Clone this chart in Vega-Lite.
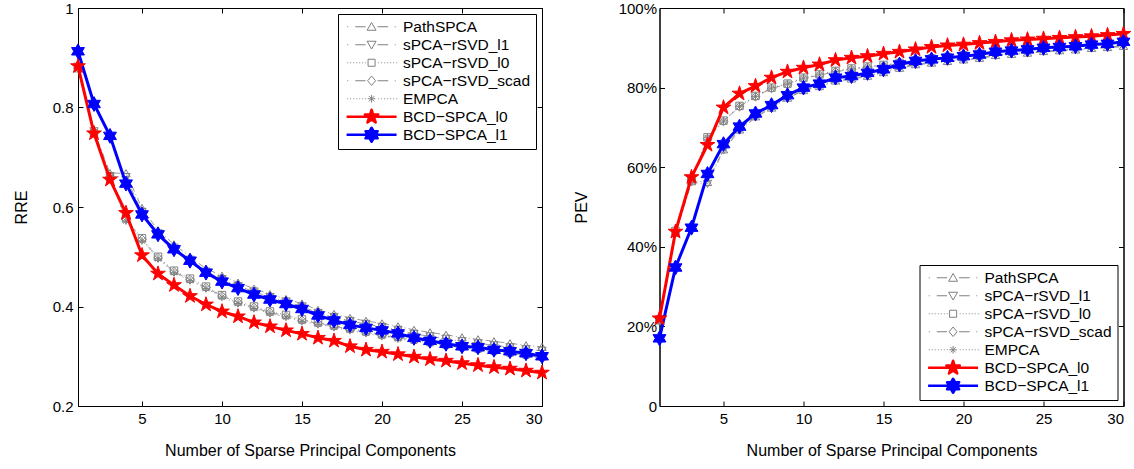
{
  "$schema": "https://vega.github.io/schema/vega-lite/v6.json",
  "padding": {"left": 12, "top": 0, "right": 5, "bottom": 5},
  "background": "white",
  "datasets": {
    "rre": [
      {"k":1,"PathSPCA":0.885,"sPCA−rSVD_l1":0.882,"sPCA−rSVD_l0":0.879,"sPCA−rSVD_scad":0.880,"EMPCA":0.878,"BCD−SPCA_l0":0.883,"BCD−SPCA_l1":0.913},
      {"k":2,"PathSPCA":0.755,"sPCA−rSVD_l1":0.752,"sPCA−rSVD_l0":0.748,"sPCA−rSVD_scad":0.750,"EMPCA":0.747,"BCD−SPCA_l0":0.748,"BCD−SPCA_l1":0.807},
      {"k":3,"PathSPCA":0.668,"sPCA−rSVD_l1":0.662,"sPCA−rSVD_l0":0.660,"sPCA−rSVD_scad":0.658,"EMPCA":0.657,"BCD−SPCA_l0":0.655,"BCD−SPCA_l1":0.743},
      {"k":4,"PathSPCA":0.668,"sPCA−rSVD_l1":0.660,"sPCA−rSVD_l0":0.577,"sPCA−rSVD_scad":0.575,"EMPCA":0.572,"BCD−SPCA_l0":0.588,"BCD−SPCA_l1":0.647},
      {"k":5,"PathSPCA":0.598,"sPCA−rSVD_l1":0.590,"sPCA−rSVD_l0":0.537,"sPCA−rSVD_scad":0.535,"EMPCA":0.532,"BCD−SPCA_l0":0.503,"BCD−SPCA_l1":0.585},
      {"k":6,"PathSPCA":0.553,"sPCA−rSVD_l1":0.547,"sPCA−rSVD_l0":0.500,"sPCA−rSVD_scad":0.498,"EMPCA":0.496,"BCD−SPCA_l0":0.466,"BCD−SPCA_l1":0.545},
      {"k":7,"PathSPCA":0.525,"sPCA−rSVD_l1":0.518,"sPCA−rSVD_l0":0.472,"sPCA−rSVD_scad":0.470,"EMPCA":0.468,"BCD−SPCA_l0":0.443,"BCD−SPCA_l1":0.515},
      {"k":8,"PathSPCA":0.500,"sPCA−rSVD_l1":0.494,"sPCA−rSVD_l0":0.456,"sPCA−rSVD_scad":0.454,"EMPCA":0.452,"BCD−SPCA_l0":0.421,"BCD−SPCA_l1":0.492},
      {"k":9,"PathSPCA":0.476,"sPCA−rSVD_l1":0.470,"sPCA−rSVD_l0":0.440,"sPCA−rSVD_scad":0.438,"EMPCA":0.436,"BCD−SPCA_l0":0.404,"BCD−SPCA_l1":0.468},
      {"k":10,"PathSPCA":0.462,"sPCA−rSVD_l1":0.455,"sPCA−rSVD_l0":0.423,"sPCA−rSVD_scad":0.421,"EMPCA":0.419,"BCD−SPCA_l0":0.390,"BCD−SPCA_l1":0.450},
      {"k":11,"PathSPCA":0.448,"sPCA−rSVD_l1":0.441,"sPCA−rSVD_l0":0.410,"sPCA−rSVD_scad":0.408,"EMPCA":0.406,"BCD−SPCA_l0":0.380,"BCD−SPCA_l1":0.437},
      {"k":12,"PathSPCA":0.436,"sPCA−rSVD_l1":0.430,"sPCA−rSVD_l0":0.400,"sPCA−rSVD_scad":0.398,"EMPCA":0.396,"BCD−SPCA_l0":0.368,"BCD−SPCA_l1":0.424},
      {"k":13,"PathSPCA":0.425,"sPCA−rSVD_l1":0.419,"sPCA−rSVD_l0":0.390,"sPCA−rSVD_scad":0.388,"EMPCA":0.386,"BCD−SPCA_l0":0.360,"BCD−SPCA_l1":0.414},
      {"k":14,"PathSPCA":0.415,"sPCA−rSVD_l1":0.410,"sPCA−rSVD_l0":0.383,"sPCA−rSVD_scad":0.381,"EMPCA":0.379,"BCD−SPCA_l0":0.352,"BCD−SPCA_l1":0.405},
      {"k":15,"PathSPCA":0.406,"sPCA−rSVD_l1":0.400,"sPCA−rSVD_l0":0.374,"sPCA−rSVD_scad":0.372,"EMPCA":0.370,"BCD−SPCA_l0":0.345,"BCD−SPCA_l1":0.395},
      {"k":16,"PathSPCA":0.393,"sPCA−rSVD_l1":0.387,"sPCA−rSVD_l0":0.368,"sPCA−rSVD_scad":0.366,"EMPCA":0.364,"BCD−SPCA_l0":0.337,"BCD−SPCA_l1":0.382},
      {"k":17,"PathSPCA":0.385,"sPCA−rSVD_l1":0.379,"sPCA−rSVD_l0":0.362,"sPCA−rSVD_scad":0.360,"EMPCA":0.358,"BCD−SPCA_l0":0.331,"BCD−SPCA_l1":0.372},
      {"k":18,"PathSPCA":0.377,"sPCA−rSVD_l1":0.371,"sPCA−rSVD_l0":0.356,"sPCA−rSVD_scad":0.354,"EMPCA":0.352,"BCD−SPCA_l0":0.320,"BCD−SPCA_l1":0.363},
      {"k":19,"PathSPCA":0.371,"sPCA−rSVD_l1":0.365,"sPCA−rSVD_l0":0.350,"sPCA−rSVD_scad":0.348,"EMPCA":0.346,"BCD−SPCA_l0":0.313,"BCD−SPCA_l1":0.357},
      {"k":20,"PathSPCA":0.366,"sPCA−rSVD_l1":0.359,"sPCA−rSVD_l0":0.344,"sPCA−rSVD_scad":0.342,"EMPCA":0.340,"BCD−SPCA_l0":0.309,"BCD−SPCA_l1":0.352},
      {"k":21,"PathSPCA":0.360,"sPCA−rSVD_l1":0.353,"sPCA−rSVD_l0":0.339,"sPCA−rSVD_scad":0.337,"EMPCA":0.335,"BCD−SPCA_l0":0.304,"BCD−SPCA_l1":0.346},
      {"k":22,"PathSPCA":0.353,"sPCA−rSVD_l1":0.345,"sPCA−rSVD_l0":0.334,"sPCA−rSVD_scad":0.332,"EMPCA":0.330,"BCD−SPCA_l0":0.299,"BCD−SPCA_l1":0.337},
      {"k":23,"PathSPCA":0.348,"sPCA−rSVD_l1":0.340,"sPCA−rSVD_l0":0.329,"sPCA−rSVD_scad":0.327,"EMPCA":0.325,"BCD−SPCA_l0":0.294,"BCD−SPCA_l1":0.331},
      {"k":24,"PathSPCA":0.343,"sPCA−rSVD_l1":0.335,"sPCA−rSVD_l0":0.324,"sPCA−rSVD_scad":0.322,"EMPCA":0.320,"BCD−SPCA_l0":0.291,"BCD−SPCA_l1":0.325},
      {"k":25,"PathSPCA":0.338,"sPCA−rSVD_l1":0.330,"sPCA−rSVD_l0":0.320,"sPCA−rSVD_scad":0.318,"EMPCA":0.316,"BCD−SPCA_l0":0.286,"BCD−SPCA_l1":0.320},
      {"k":26,"PathSPCA":0.334,"sPCA−rSVD_l1":0.326,"sPCA−rSVD_l0":0.316,"sPCA−rSVD_scad":0.314,"EMPCA":0.312,"BCD−SPCA_l0":0.282,"BCD−SPCA_l1":0.318},
      {"k":27,"PathSPCA":0.330,"sPCA−rSVD_l1":0.322,"sPCA−rSVD_l0":0.312,"sPCA−rSVD_scad":0.310,"EMPCA":0.308,"BCD−SPCA_l0":0.278,"BCD−SPCA_l1":0.313},
      {"k":28,"PathSPCA":0.326,"sPCA−rSVD_l1":0.318,"sPCA−rSVD_l0":0.308,"sPCA−rSVD_scad":0.306,"EMPCA":0.304,"BCD−SPCA_l0":0.275,"BCD−SPCA_l1":0.310},
      {"k":29,"PathSPCA":0.322,"sPCA−rSVD_l1":0.314,"sPCA−rSVD_l0":0.304,"sPCA−rSVD_scad":0.302,"EMPCA":0.300,"BCD−SPCA_l0":0.271,"BCD−SPCA_l1":0.306},
      {"k":30,"PathSPCA":0.319,"sPCA−rSVD_l1":0.311,"sPCA−rSVD_l0":0.300,"sPCA−rSVD_scad":0.298,"EMPCA":0.296,"BCD−SPCA_l0":0.267,"BCD−SPCA_l1":0.300}
    ],
    "pev": [
      {"k":1,"PathSPCA":21.5,"sPCA−rSVD_l1":21.3,"sPCA−rSVD_l0":21.8,"sPCA−rSVD_scad":21.6,"EMPCA":21.7,"BCD−SPCA_l0":22.0,"BCD−SPCA_l1":17.0},
      {"k":2,"PathSPCA":43.5,"sPCA−rSVD_l1":43.3,"sPCA−rSVD_l0":44.0,"sPCA−rSVD_scad":43.8,"EMPCA":43.9,"BCD−SPCA_l0":43.8,"BCD−SPCA_l1":34.8},
      {"k":3,"PathSPCA":56.5,"sPCA−rSVD_l1":56.2,"sPCA−rSVD_l0":57.0,"sPCA−rSVD_scad":56.8,"EMPCA":56.9,"BCD−SPCA_l0":57.5,"BCD−SPCA_l1":44.8},
      {"k":4,"PathSPCA":56.3,"sPCA−rSVD_l1":55.8,"sPCA−rSVD_l0":67.5,"sPCA−rSVD_scad":67.2,"EMPCA":67.4,"BCD−SPCA_l0":65.6,"BCD−SPCA_l1":58.3},
      {"k":5,"PathSPCA":64.5,"sPCA−rSVD_l1":64.2,"sPCA−rSVD_l0":71.7,"sPCA−rSVD_scad":71.5,"EMPCA":71.6,"BCD−SPCA_l0":75.0,"BCD−SPCA_l1":65.8},
      {"k":6,"PathSPCA":69.5,"sPCA−rSVD_l1":69.2,"sPCA−rSVD_l0":75.4,"sPCA−rSVD_scad":75.2,"EMPCA":75.3,"BCD−SPCA_l0":78.5,"BCD−SPCA_l1":70.2},
      {"k":7,"PathSPCA":72.8,"sPCA−rSVD_l1":72.5,"sPCA−rSVD_l0":77.9,"sPCA−rSVD_scad":77.7,"EMPCA":77.8,"BCD−SPCA_l0":80.4,"BCD−SPCA_l1":73.5},
      {"k":8,"PathSPCA":75.0,"sPCA−rSVD_l1":74.8,"sPCA−rSVD_l0":80.0,"sPCA−rSVD_scad":79.8,"EMPCA":79.9,"BCD−SPCA_l0":82.5,"BCD−SPCA_l1":75.6},
      {"k":9,"PathSPCA":77.5,"sPCA−rSVD_l1":77.3,"sPCA−rSVD_l0":81.0,"sPCA−rSVD_scad":80.8,"EMPCA":80.9,"BCD−SPCA_l0":84.0,"BCD−SPCA_l1":78.1},
      {"k":10,"PathSPCA":79.4,"sPCA−rSVD_l1":79.2,"sPCA−rSVD_l0":82.5,"sPCA−rSVD_scad":82.3,"EMPCA":82.4,"BCD−SPCA_l0":85.0,"BCD−SPCA_l1":80.0},
      {"k":11,"PathSPCA":80.4,"sPCA−rSVD_l1":80.2,"sPCA−rSVD_l0":83.3,"sPCA−rSVD_scad":83.1,"EMPCA":83.2,"BCD−SPCA_l0":85.8,"BCD−SPCA_l1":81.0},
      {"k":12,"PathSPCA":81.8,"sPCA−rSVD_l1":81.6,"sPCA−rSVD_l0":84.2,"sPCA−rSVD_scad":84.0,"EMPCA":84.1,"BCD−SPCA_l0":86.9,"BCD−SPCA_l1":82.5},
      {"k":13,"PathSPCA":82.3,"sPCA−rSVD_l1":82.1,"sPCA−rSVD_l0":84.8,"sPCA−rSVD_scad":84.6,"EMPCA":84.7,"BCD−SPCA_l0":87.5,"BCD−SPCA_l1":82.9},
      {"k":14,"PathSPCA":83.0,"sPCA−rSVD_l1":82.8,"sPCA−rSVD_l0":85.3,"sPCA−rSVD_scad":85.1,"EMPCA":85.2,"BCD−SPCA_l0":87.9,"BCD−SPCA_l1":83.7},
      {"k":15,"PathSPCA":83.9,"sPCA−rSVD_l1":83.7,"sPCA−rSVD_l0":85.7,"sPCA−rSVD_scad":85.5,"EMPCA":85.6,"BCD−SPCA_l0":88.5,"BCD−SPCA_l1":84.6},
      {"k":16,"PathSPCA":85.0,"sPCA−rSVD_l1":84.8,"sPCA−rSVD_l0":86.2,"sPCA−rSVD_scad":86.0,"EMPCA":86.1,"BCD−SPCA_l0":89.0,"BCD−SPCA_l1":85.8},
      {"k":17,"PathSPCA":85.9,"sPCA−rSVD_l1":85.7,"sPCA−rSVD_l0":86.8,"sPCA−rSVD_scad":86.6,"EMPCA":86.7,"BCD−SPCA_l0":89.6,"BCD−SPCA_l1":86.7},
      {"k":18,"PathSPCA":86.3,"sPCA−rSVD_l1":86.1,"sPCA−rSVD_l0":87.3,"sPCA−rSVD_scad":87.1,"EMPCA":87.2,"BCD−SPCA_l0":90.2,"BCD−SPCA_l1":87.1},
      {"k":19,"PathSPCA":86.7,"sPCA−rSVD_l1":86.5,"sPCA−rSVD_l0":87.7,"sPCA−rSVD_scad":87.5,"EMPCA":87.6,"BCD−SPCA_l0":90.6,"BCD−SPCA_l1":87.5},
      {"k":20,"PathSPCA":87.1,"sPCA−rSVD_l1":86.9,"sPCA−rSVD_l0":88.1,"sPCA−rSVD_scad":87.9,"EMPCA":88.0,"BCD−SPCA_l0":90.8,"BCD−SPCA_l1":87.9},
      {"k":21,"PathSPCA":87.5,"sPCA−rSVD_l1":87.3,"sPCA−rSVD_l0":88.5,"sPCA−rSVD_scad":88.3,"EMPCA":88.4,"BCD−SPCA_l0":91.2,"BCD−SPCA_l1":88.3},
      {"k":22,"PathSPCA":88.2,"sPCA−rSVD_l1":88.0,"sPCA−rSVD_l0":89.1,"sPCA−rSVD_scad":88.9,"EMPCA":89.0,"BCD−SPCA_l0":91.5,"BCD−SPCA_l1":89.0},
      {"k":23,"PathSPCA":88.5,"sPCA−rSVD_l1":88.3,"sPCA−rSVD_l0":89.4,"sPCA−rSVD_scad":89.2,"EMPCA":89.3,"BCD−SPCA_l0":91.9,"BCD−SPCA_l1":89.3},
      {"k":24,"PathSPCA":88.8,"sPCA−rSVD_l1":88.6,"sPCA−rSVD_l0":89.7,"sPCA−rSVD_scad":89.5,"EMPCA":89.6,"BCD−SPCA_l0":92.1,"BCD−SPCA_l1":89.6},
      {"k":25,"PathSPCA":89.2,"sPCA−rSVD_l1":89.0,"sPCA−rSVD_l0":90.1,"sPCA−rSVD_scad":89.9,"EMPCA":90.0,"BCD−SPCA_l0":92.3,"BCD−SPCA_l1":90.0},
      {"k":26,"PathSPCA":89.4,"sPCA−rSVD_l1":89.2,"sPCA−rSVD_l0":90.3,"sPCA−rSVD_scad":90.1,"EMPCA":90.2,"BCD−SPCA_l0":92.5,"BCD−SPCA_l1":90.2},
      {"k":27,"PathSPCA":89.6,"sPCA−rSVD_l1":89.4,"sPCA−rSVD_l0":90.5,"sPCA−rSVD_scad":90.3,"EMPCA":90.4,"BCD−SPCA_l0":92.7,"BCD−SPCA_l1":90.4},
      {"k":28,"PathSPCA":90.0,"sPCA−rSVD_l1":89.8,"sPCA−rSVD_l0":90.9,"sPCA−rSVD_scad":90.7,"EMPCA":90.8,"BCD−SPCA_l0":92.9,"BCD−SPCA_l1":90.8},
      {"k":29,"PathSPCA":90.2,"sPCA−rSVD_l1":90.0,"sPCA−rSVD_l0":91.1,"sPCA−rSVD_scad":90.9,"EMPCA":91.0,"BCD−SPCA_l0":93.2,"BCD−SPCA_l1":91.0},
      {"k":30,"PathSPCA":90.5,"sPCA−rSVD_l1":90.3,"sPCA−rSVD_l0":91.6,"sPCA−rSVD_scad":91.4,"EMPCA":91.5,"BCD−SPCA_l0":93.5,"BCD−SPCA_l1":91.5}
    ]
  },
  "bounds": "flush",
  "spacing": 117.5,
  "resolve": {
    "scale": {"x": "independent", "y": "independent", "color": "independent"},
    "legend": {"color": "independent"}
  },
  "hconcat": [
    {
      "width": 464,
      "height": 398,
      "data": {"name": "rre"},
      "transform": [
        {"fold": ["PathSPCA", "sPCA−rSVD_l1", "sPCA−rSVD_l0", "sPCA−rSVD_scad", "EMPCA", "BCD−SPCA_l0", "BCD−SPCA_l1"], "as": ["method", "v"]}
      ],
      "resolve": {"axis": {"x": "independent", "y": "independent"}},
      "layer": [
        {
          "transform": [{"filter": {"field": "method", "oneOf": ["PathSPCA", "sPCA−rSVD_l1", "sPCA−rSVD_scad"]}}],
          "mark": {"type": "line", "strokeWidth": 0.8, "strokeDash": [6, 3, 1, 3]},
          "encoding": {
            "x": {"field": "k", "type": "quantitative", "scale": {"domain": [1, 30], "nice": false, "zero": false},
                  "axis": {"values": [5, 10, 15, 20, 25, 30], "title": "Number of Sparse Principal Components", "labelPadding": 10, "titlePadding": 16}},
            "y": {"field": "v", "type": "quantitative", "scale": {"domain": [0.2, 1], "nice": false, "zero": false},
                  "axis": {"values": [0.2, 0.4, 0.6, 0.8, 1], "format": ".1~f", "title": "RRE", "labelPadding": 10, "titlePadding": 23}},
            "color": {"field": "method", "type": "nominal",
                      "scale": {"domain": ["PathSPCA", "sPCA−rSVD_l1", "sPCA−rSVD_l0", "sPCA−rSVD_scad", "EMPCA", "BCD−SPCA_l0", "BCD−SPCA_l1"],
                                "range": ["#808080", "#808080", "#808080", "#808080", "#808080", "#ff0000", "#0000ff"]},
                      "legend": {"orient": "top-right", "offset": 6,
                        "encode": {
                          "symbols": {
                            "update": {
                              "shape": {"signal": "datum.value == 'PathSPCA' ? 'M1.93,-0.85M1.93,0.85M-0.63,0H-0.53M0.21,0H1.3M2.56,0H3.68M4.37,0H4.47M1.93,-0.45L2.4,0.37L1.46,0.37Z' : datum.value == 'sPCA−rSVD_l1' ? 'M1.93,-0.85M1.93,0.85M-0.63,0H-0.53M0.21,0H1.3M2.56,0H3.68M4.37,0H4.47M1.93,0.45L2.4,-0.37L1.46,-0.37Z' : datum.value == 'sPCA−rSVD_l0' ? 'M1.93,-0.85M1.93,0.85M-0.63,0H-0.53M-0.32,0H-0.22M0,0H0.1M0.32,0H0.42M0.63,0H0.73M0.95,0H1.05M1.26,0H1.36M2.63,0H2.73M2.95,0H3.05M3.26,0H3.36M3.58,0H3.68M3.89,0H3.99M4.21,0H4.31M4.53,0H4.63M1.56,-0.37H2.3V0.37H1.56Z' : datum.value == 'sPCA−rSVD_scad' ? 'M1.93,-0.85M1.93,0.85M-0.63,0H-0.53M0.21,0H1.3M2.56,0H3.68M4.37,0H4.47M1.93,-0.5L2.35,0L1.93,0.5L1.51,0Z' : datum.value == 'EMPCA' ? 'M1.93,-0.85M1.93,0.85M-0.63,0H-0.53M-0.32,0H-0.22M0,0H0.1M0.32,0H0.42M0.63,0H0.73M0.95,0H1.05M1.26,0H1.36M2.63,0H2.73M2.95,0H3.05M3.26,0H3.36M3.58,0H3.68M3.89,0H3.99M4.21,0H4.31M4.53,0H4.63M1.53,0H2.33M1.93,-0.4V0.4M1.65,-0.28L2.21,0.28M1.65,0.28L2.21,-0.28' : datum.value == 'BCD−SPCA_l0' ? 'M-0.7,0H4.56M1.93,-0.74L2.097,-0.229L2.634,-0.229L2.199,0.087L2.365,0.599L1.93,0.283L1.495,0.599L1.661,0.087L1.226,-0.229L1.763,-0.229Z' : 'M-0.7,0H4.56M1.93,-0.74L2.144,-0.37L2.571,-0.37L2.357,0L2.571,0.37L2.144,0.37L1.93,0.74L1.716,0.37L1.289,0.37L1.503,0L1.289,-0.37L1.716,-0.37Z'"},
                              "fill": {"signal": "datum.value == 'BCD−SPCA_l0' ? '#ff0000' : datum.value == 'BCD−SPCA_l1' ? '#0000ff' : 'transparent'"},
                              "stroke": {"signal": "datum.value == 'BCD−SPCA_l0' ? '#ff0000' : datum.value == 'BCD−SPCA_l1' ? '#0000ff' : '#808080'"},
                              "strokeWidth": {"signal": "datum.value == 'BCD−SPCA_l0' || datum.value == 'BCD−SPCA_l1' ? 2.5 : 1"},
                              "strokeJoin": {"value": "round"}
                            }
                          }
                        }}}
          }
        },
        {
          "transform": [{"filter": {"field": "method", "oneOf": ["sPCA−rSVD_l0", "EMPCA"]}}],
          "mark": {"type": "line", "strokeWidth": 0.8, "strokeDash": [1, 3]},
          "encoding": {
            "x": {"field": "k", "type": "quantitative", "axis": null},
            "y": {"field": "v", "type": "quantitative", "axis": null},
            "color": {"field": "method", "type": "nominal", "legend": null}
          }
        },
        {
          "transform": [{"filter": {"field": "method", "equal": "PathSPCA"}}],
          "mark": {"type": "point", "shape": "triangle-up", "filled": false, "color": "#808080", "strokeWidth": 1, "size": 70, "opacity": 1},
          "encoding": {"x": {"field": "k", "type": "quantitative", "axis": null}, "y": {"field": "v", "type": "quantitative", "axis": null}}
        },
        {
          "transform": [{"filter": {"field": "method", "equal": "sPCA−rSVD_l1"}}],
          "mark": {"type": "point", "shape": "triangle-down", "filled": false, "color": "#808080", "strokeWidth": 1, "size": 70, "opacity": 1},
          "encoding": {"x": {"field": "k", "type": "quantitative", "axis": null}, "y": {"field": "v", "type": "quantitative", "axis": null}}
        },
        {
          "transform": [{"filter": {"field": "method", "equal": "sPCA−rSVD_l0"}}],
          "mark": {"type": "point", "shape": "square", "filled": false, "color": "#808080", "strokeWidth": 1, "size": 55, "opacity": 1},
          "encoding": {"x": {"field": "k", "type": "quantitative", "axis": null}, "y": {"field": "v", "type": "quantitative", "axis": null}}
        },
        {
          "transform": [{"filter": {"field": "method", "equal": "sPCA−rSVD_scad"}}],
          "mark": {"type": "point", "shape": "diamond", "filled": false, "color": "#808080", "strokeWidth": 1, "size": 75, "opacity": 1},
          "encoding": {"x": {"field": "k", "type": "quantitative", "axis": null}, "y": {"field": "v", "type": "quantitative", "axis": null}}
        },
        {
          "transform": [{"filter": {"field": "method", "equal": "EMPCA"}}],
          "mark": {"type": "point", "shape": "M-1,0H1M0,-1V1M-0.7,-0.7L0.7,0.7M-0.7,0.7L0.7,-0.7", "filled": false, "color": "#808080", "strokeWidth": 1, "size": 60, "opacity": 1},
          "encoding": {"x": {"field": "k", "type": "quantitative", "axis": null}, "y": {"field": "v", "type": "quantitative", "axis": null}}
        },
        {
          "transform": [{"filter": {"field": "method", "oneOf": ["BCD−SPCA_l0", "BCD−SPCA_l1"]}}],
          "mark": {"type": "line", "strokeWidth": 3},
          "encoding": {
            "x": {"field": "k", "type": "quantitative", "axis": {"orient": "top", "labels": false, "title": null, "values": [5, 10, 15, 20, 25, 30]}},
            "y": {"field": "v", "type": "quantitative", "axis": {"orient": "right", "labels": false, "title": null, "values": [0.2, 0.4, 0.6, 0.8, 1]}},
            "color": {"field": "method", "type": "nominal", "legend": null}
          }
        },
        {
          "transform": [{"filter": {"field": "method", "equal": "BCD−SPCA_l0"}}],
          "mark": {"type": "point", "shape": "M0,-1L0.225,-0.309L0.951,-0.309L0.363,0.118L0.588,0.809L0,0.382L-0.588,0.809L-0.363,0.118L-0.951,-0.309L-0.225,-0.309Z", "filled": true, "color": "#ff0000", "stroke": "#ff0000", "strokeWidth": 1, "size": 240, "opacity": 1},
          "encoding": {"x": {"field": "k", "type": "quantitative", "axis": null}, "y": {"field": "v", "type": "quantitative", "axis": null}}
        },
        {
          "transform": [{"filter": {"field": "method", "equal": "BCD−SPCA_l1"}}],
          "mark": {"type": "point", "shape": "M0,-1L0.289,-0.5L0.866,-0.5L0.577,0L0.866,0.5L0.289,0.5L0,1L-0.289,0.5L-0.866,0.5L-0.577,0L-0.866,-0.5L-0.289,-0.5Z", "filled": true, "color": "#0000ff", "stroke": "#0000ff", "strokeWidth": 1, "size": 220, "opacity": 1},
          "encoding": {"x": {"field": "k", "type": "quantitative", "axis": null}, "y": {"field": "v", "type": "quantitative", "axis": null}}
        }
      ]
    },
    {
      "width": 464,
      "height": 398,
      "data": {"name": "pev"},
      "transform": [
        {"fold": ["PathSPCA", "sPCA−rSVD_l1", "sPCA−rSVD_l0", "sPCA−rSVD_scad", "EMPCA", "BCD−SPCA_l0", "BCD−SPCA_l1"], "as": ["method", "v"]}
      ],
      "resolve": {"axis": {"x": "independent", "y": "independent"}},
      "layer": [
        {
          "transform": [{"filter": {"field": "method", "oneOf": ["PathSPCA", "sPCA−rSVD_l1", "sPCA−rSVD_scad"]}}],
          "mark": {"type": "line", "strokeWidth": 0.8, "strokeDash": [6, 3, 1, 3]},
          "encoding": {
            "x": {"field": "k", "type": "quantitative", "scale": {"domain": [1, 30], "nice": false, "zero": false},
                  "axis": {"values": [5, 10, 15, 20, 25, 30], "title": "Number of Sparse Principal Components", "labelPadding": 10, "titlePadding": 16}},
            "y": {"field": "v", "type": "quantitative", "scale": {"domain": [0, 100], "nice": false, "zero": false},
                  "axis": {"values": [0, 20, 40, 60, 80, 100], "labelExpr": "datum.value == 0 ? '0' : datum.value + '%'", "title": "PEV", "labelPadding": 8, "titlePadding": 29}},
            "color": {"field": "method", "type": "nominal",
                      "scale": {"domain": ["PathSPCA", "sPCA−rSVD_l1", "sPCA−rSVD_l0", "sPCA−rSVD_scad", "EMPCA", "BCD−SPCA_l0", "BCD−SPCA_l1"],
                                "range": ["#808080", "#808080", "#808080", "#808080", "#808080", "#ff0000", "#0000ff"]},
                      "legend": {"orient": "bottom-right", "offset": 6,
                        "encode": {
                          "symbols": {
                            "update": {
                              "shape": {"signal": "datum.value == 'PathSPCA' ? 'M1.93,-0.85M1.93,0.85M-0.63,0H-0.53M0.21,0H1.3M2.56,0H3.68M4.37,0H4.47M1.93,-0.45L2.4,0.37L1.46,0.37Z' : datum.value == 'sPCA−rSVD_l1' ? 'M1.93,-0.85M1.93,0.85M-0.63,0H-0.53M0.21,0H1.3M2.56,0H3.68M4.37,0H4.47M1.93,0.45L2.4,-0.37L1.46,-0.37Z' : datum.value == 'sPCA−rSVD_l0' ? 'M1.93,-0.85M1.93,0.85M-0.63,0H-0.53M-0.32,0H-0.22M0,0H0.1M0.32,0H0.42M0.63,0H0.73M0.95,0H1.05M1.26,0H1.36M2.63,0H2.73M2.95,0H3.05M3.26,0H3.36M3.58,0H3.68M3.89,0H3.99M4.21,0H4.31M4.53,0H4.63M1.56,-0.37H2.3V0.37H1.56Z' : datum.value == 'sPCA−rSVD_scad' ? 'M1.93,-0.85M1.93,0.85M-0.63,0H-0.53M0.21,0H1.3M2.56,0H3.68M4.37,0H4.47M1.93,-0.5L2.35,0L1.93,0.5L1.51,0Z' : datum.value == 'EMPCA' ? 'M1.93,-0.85M1.93,0.85M-0.63,0H-0.53M-0.32,0H-0.22M0,0H0.1M0.32,0H0.42M0.63,0H0.73M0.95,0H1.05M1.26,0H1.36M2.63,0H2.73M2.95,0H3.05M3.26,0H3.36M3.58,0H3.68M3.89,0H3.99M4.21,0H4.31M4.53,0H4.63M1.53,0H2.33M1.93,-0.4V0.4M1.65,-0.28L2.21,0.28M1.65,0.28L2.21,-0.28' : datum.value == 'BCD−SPCA_l0' ? 'M-0.7,0H4.56M1.93,-0.74L2.097,-0.229L2.634,-0.229L2.199,0.087L2.365,0.599L1.93,0.283L1.495,0.599L1.661,0.087L1.226,-0.229L1.763,-0.229Z' : 'M-0.7,0H4.56M1.93,-0.74L2.144,-0.37L2.571,-0.37L2.357,0L2.571,0.37L2.144,0.37L1.93,0.74L1.716,0.37L1.289,0.37L1.503,0L1.289,-0.37L1.716,-0.37Z'"},
                              "fill": {"signal": "datum.value == 'BCD−SPCA_l0' ? '#ff0000' : datum.value == 'BCD−SPCA_l1' ? '#0000ff' : 'transparent'"},
                              "stroke": {"signal": "datum.value == 'BCD−SPCA_l0' ? '#ff0000' : datum.value == 'BCD−SPCA_l1' ? '#0000ff' : '#808080'"},
                              "strokeWidth": {"signal": "datum.value == 'BCD−SPCA_l0' || datum.value == 'BCD−SPCA_l1' ? 2.5 : 1"},
                              "strokeJoin": {"value": "round"}
                            }
                          }
                        }}}
          }
        },
        {
          "transform": [{"filter": {"field": "method", "oneOf": ["sPCA−rSVD_l0", "EMPCA"]}}],
          "mark": {"type": "line", "strokeWidth": 0.8, "strokeDash": [1, 3]},
          "encoding": {
            "x": {"field": "k", "type": "quantitative", "axis": null},
            "y": {"field": "v", "type": "quantitative", "axis": null},
            "color": {"field": "method", "type": "nominal", "legend": null}
          }
        },
        {
          "transform": [{"filter": {"field": "method", "equal": "PathSPCA"}}],
          "mark": {"type": "point", "shape": "triangle-up", "filled": false, "color": "#808080", "strokeWidth": 1, "size": 70, "opacity": 1},
          "encoding": {"x": {"field": "k", "type": "quantitative", "axis": null}, "y": {"field": "v", "type": "quantitative", "axis": null}}
        },
        {
          "transform": [{"filter": {"field": "method", "equal": "sPCA−rSVD_l1"}}],
          "mark": {"type": "point", "shape": "triangle-down", "filled": false, "color": "#808080", "strokeWidth": 1, "size": 70, "opacity": 1},
          "encoding": {"x": {"field": "k", "type": "quantitative", "axis": null}, "y": {"field": "v", "type": "quantitative", "axis": null}}
        },
        {
          "transform": [{"filter": {"field": "method", "equal": "sPCA−rSVD_l0"}}],
          "mark": {"type": "point", "shape": "square", "filled": false, "color": "#808080", "strokeWidth": 1, "size": 55, "opacity": 1},
          "encoding": {"x": {"field": "k", "type": "quantitative", "axis": null}, "y": {"field": "v", "type": "quantitative", "axis": null}}
        },
        {
          "transform": [{"filter": {"field": "method", "equal": "sPCA−rSVD_scad"}}],
          "mark": {"type": "point", "shape": "diamond", "filled": false, "color": "#808080", "strokeWidth": 1, "size": 75, "opacity": 1},
          "encoding": {"x": {"field": "k", "type": "quantitative", "axis": null}, "y": {"field": "v", "type": "quantitative", "axis": null}}
        },
        {
          "transform": [{"filter": {"field": "method", "equal": "EMPCA"}}],
          "mark": {"type": "point", "shape": "M-1,0H1M0,-1V1M-0.7,-0.7L0.7,0.7M-0.7,0.7L0.7,-0.7", "filled": false, "color": "#808080", "strokeWidth": 1, "size": 60, "opacity": 1},
          "encoding": {"x": {"field": "k", "type": "quantitative", "axis": null}, "y": {"field": "v", "type": "quantitative", "axis": null}}
        },
        {
          "transform": [{"filter": {"field": "method", "oneOf": ["BCD−SPCA_l0", "BCD−SPCA_l1"]}}],
          "mark": {"type": "line", "strokeWidth": 3},
          "encoding": {
            "x": {"field": "k", "type": "quantitative", "axis": {"orient": "top", "labels": false, "title": null, "values": [5, 10, 15, 20, 25, 30]}},
            "y": {"field": "v", "type": "quantitative", "axis": {"orient": "right", "labels": false, "title": null, "values": [0, 20, 40, 60, 80, 100]}},
            "color": {"field": "method", "type": "nominal", "legend": null}
          }
        },
        {
          "transform": [{"filter": {"field": "method", "equal": "BCD−SPCA_l0"}}],
          "mark": {"type": "point", "shape": "M0,-1L0.225,-0.309L0.951,-0.309L0.363,0.118L0.588,0.809L0,0.382L-0.588,0.809L-0.363,0.118L-0.951,-0.309L-0.225,-0.309Z", "filled": true, "color": "#ff0000", "stroke": "#ff0000", "strokeWidth": 1, "size": 240, "opacity": 1},
          "encoding": {"x": {"field": "k", "type": "quantitative", "axis": null}, "y": {"field": "v", "type": "quantitative", "axis": null}}
        },
        {
          "transform": [{"filter": {"field": "method", "equal": "BCD−SPCA_l1"}}],
          "mark": {"type": "point", "shape": "M0,-1L0.289,-0.5L0.866,-0.5L0.577,0L0.866,0.5L0.289,0.5L0,1L-0.289,0.5L-0.866,0.5L-0.577,0L-0.866,-0.5L-0.289,-0.5Z", "filled": true, "color": "#0000ff", "stroke": "#0000ff", "strokeWidth": 1, "size": 220, "opacity": 1},
          "encoding": {"x": {"field": "k", "type": "quantitative", "axis": null}, "y": {"field": "v", "type": "quantitative", "axis": null}}
        }
      ]
    }
  ],
  "config": {
    "font": "Liberation Sans",
    "view": {"stroke": "#000", "strokeWidth": 1},
    "axis": {
      "grid": false, "domainColor": "#000", "domainWidth": 1, "tickColor": "#000", "tickSize": -5, "tickWidth": 1,
      "labelColor": "#000", "labelFontSize": 15, "labelFont": "Liberation Sans",
      "titleColor": "#000", "titleFontSize": 16, "titleFontWeight": "normal", "titleFont": "Liberation Sans"
    },
    "legend": {
      "title": null,
      "strokeColor": "#000",
      "fillColor": "#fff",
      "padding": 5,
      "symbolSize": 361,
      "symbolOffset": 2.5,
      "labelOffset": 42,
      "rowPadding": 0,
      "labelFont": "Liberation Sans",
      "labelFontSize": 15.5,
      "labelColor": "#000",
      "labelLimit": 400,
      "symbolOpacity": 1,
      "symbolStrokeWidth": 1,
      "cornerRadius": 0
    }
  }
}
